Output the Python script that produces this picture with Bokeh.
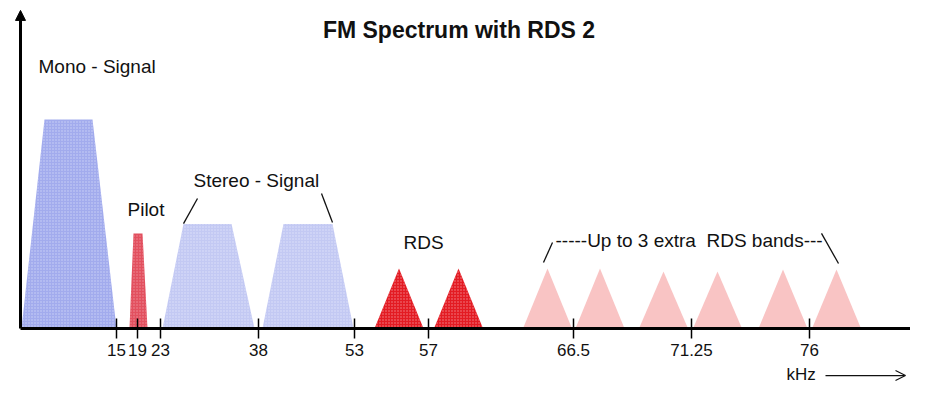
from bokeh.plotting import figure
from bokeh.models import Range1d, FixedTicker, Label, Arrow, NormalHead, OpenHead
from bokeh.embed import file_html
from bokeh.resources import INLINE

# ---------------- data (schematic diagram units) ----------------
tick_positions = [116, 137, 160, 258, 354, 428, 573, 691, 809]
tick_labels = ["15", "19", "23", "38", "53", "57", "66.5", "71.25", "76"]

# trapezoidal baseband components
band_names = ["Mono - Signal", "Pilot", "Stereo LSB", "Stereo USB"]
band_base_left = [21, 129, 162, 262]
band_base_right = [116, 147, 254, 353]
band_top_left = [44, 133, 183, 283]
band_top_right = [92, 142, 231, 332]
band_level = [100, 45.5, 50, 50]

# RDS sidebands (triangles)
rds_centre = [398.5, 458]
rds_level = [28.7, 28.7]

# up to 3 extra RDS bands (RDS2)
extra_centre = [547, 599.5, 663, 717, 782.5, 836]
extra_level = [28.7, 28.7, 27.3, 27.3, 28.2, 28.2]
tri_half_width = 24.5

# leader lines (x0, y0, x1, y1)
leader_x0 = [183, 321, 543, 821]
leader_y0 = [50.2, 64.6, 31.6, 45.5]
leader_x1 = [197, 332, 552, 838]
leader_y1 = [62.2, 50.7, 41.1, 31.1]

FONT = "Liberation Sans"

p = figure(width=910, height=386, output_backend="svg", toolbar_location=None,
           x_range=Range1d(0, 910), y_range=Range1d(-27.75, 156.94),
           y_axis_location=None, x_axis_location="below",
           min_border_left=0, min_border_right=0, min_border_top=0,
           min_border_bottom=0, background_fill_color="white",
           border_fill_color="white", outline_line_color=None)
p.grid.visible = False

# x axis as the frequency line, drawn at level 0
ax = p.xaxis[0]
ax.fixed_location = 0
ax.ticker = FixedTicker(ticks=tick_positions)
ax.major_label_overrides = {t: l for t, l in zip(tick_positions, tick_labels)}
ax.bounds = (20, 910)
ax.axis_line_width = 3
ax.axis_line_color = "black"
ax.major_tick_in = 10
ax.major_tick_out = 10
ax.major_tick_line_width = 1.5
ax.major_tick_line_color = "black"
ax.minor_tick_line_color = None
ax.major_label_text_font = FONT
ax.major_label_text_font_size = "17px"
ax.major_label_text_color = "#111111"
ax.major_label_standoff = 5

def trap(i):
    return ([band_base_left[i], band_top_left[i], band_top_right[i], band_base_right[i]],
            [0, band_level[i], band_level[i], 0])

def tri(c, h):
    return ([c - tri_half_width, c, c + tri_half_width], [0, h, 0])

styles = {
    0: dict(fill_color="#a2abed", hatch_color="#d8dcfa"),
    1: dict(fill_color="#e2505f", hatch_color="#f3a0a8"),
    2: dict(fill_color="#c3c9f3", hatch_color="#e6e9fb"),
    3: dict(fill_color="#c3c9f3", hatch_color="#e6e9fb"),
}
for i in range(len(band_names)):
    xs, ys = trap(i)
    p.patch(xs, ys, line_color=None, hatch_pattern=".", hatch_scale=3,
            hatch_weight=1, hatch_alpha=0.8, **styles[i])

for c, h in zip(rds_centre, rds_level):
    xs, ys = tri(c, h)
    p.patch(xs, ys, line_color=None, fill_color="#e31b23", hatch_pattern=".",
            hatch_color="#f7a3a6", hatch_scale=3, hatch_weight=1, hatch_alpha=0.8)

for c, h in zip(extra_centre, extra_level):
    xs, ys = tri(c, h)
    p.patch(xs, ys, line_color=None, fill_color="#f9c4c4")

# leader lines
p.segment(leader_x0, leader_y0, leader_x1, leader_y1, line_color="#111111", line_width=1.3)

# vertical axis with arrow
p.add_layout(Arrow(end=NormalHead(size=10, fill_color="black", line_color="black"),
                   x_start=20, y_start=0, x_end=20, y_end=152.2,
                   line_width=3, line_color="black"))

def lab(x, y, t, size="19px", style="normal", align="left"):
    p.add_layout(Label(x=x, y=y, text=t, text_font=FONT, text_font_size=size,
                       text_font_style=style, text_align=align,
                       text_baseline="alphabetic", text_color="#111111"))

lab(458.5, 142.6, "FM Spectrum with RDS 2", size="23px", style="bold", align="center")
lab(38, 125.3, "Mono - Signal")
lab(127, 56.9, "Pilot")
lab(193, 70.6, "Stereo - Signal")
lab(403, 41.1, "RDS")
lab(555, 42.1, "-----Up to 3 extra\u00a0 RDS bands---")
lab(786, -22.0, "kHz", size="17px")

p.add_layout(Arrow(end=OpenHead(size=10, line_color="#111111", line_width=1.2),
                   x_start=825, y_start=-22.5, x_end=905, y_end=-22.5,
                   line_width=1.2, line_color="#111111"))

open("out.html", "w").write(file_html(p, INLINE))
